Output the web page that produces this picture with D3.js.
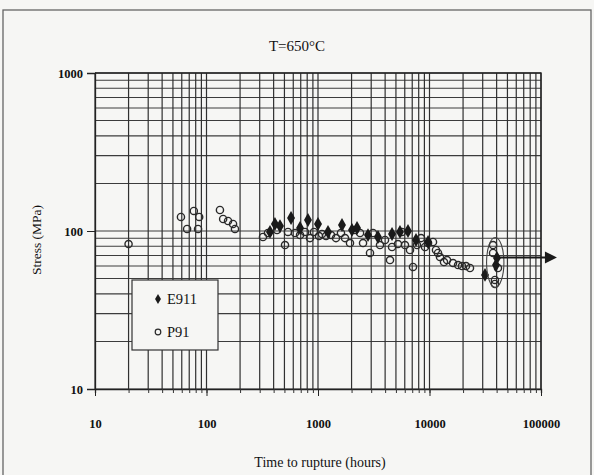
<!DOCTYPE html>
<html><head><meta charset="utf-8">
<script src="https://cdn.jsdelivr.net/npm/d3@7"></script>
<style>
html,body{margin:0;padding:0;background:#f6f6f4;}
svg{display:block;}
</style></head>
<body>
<svg id="c" width="594" height="475"></svg>
<script>
// ---- data ----
const title = "T=650°C";
const xLabel = "Time to rupture (hours)";
const yLabel = "Stress (MPa)";
const timeTicks = [10, 100, 1000, 10000, 100000];
const stressTicks = [10, 100, 1000];
const seriesNames = ["E911", "P91"];

// E911 (filled diamonds): time (h), stress (MPa)
const e911Time = [371, 411, 456, 573, 690, 813, 1000, 1230, 1641, 2018, 2239, 2808, 3451, 4613, 5435, 6413, 7566, 9705, 31470, 39450, 40270];
const e911Stress = [98.6, 110.7, 107.5, 120.9, 104.5, 117.4, 110.7, 98.6, 109.1, 101.5, 104.5, 94.3, 91.6, 95.7, 98.6, 100, 87.7, 85.2, 52.7, 60.9, 67.5];

// P91 (open circles): time (h), stress (MPa)
const p91Time = [20, 59, 67, 77, 84, 86, 132, 141, 156, 173, 180,
  321, 356, 429, 506, 538, 622, 690, 764, 847, 920, 1021, 1086, 1180, 1309, 1450, 1607, 1746, 1936,
  2148, 2383, 2535, 2927, 3113, 3597, 3990, 4424, 4613, 5215, 5665, 6028, 6684, 7111, 7726, 8398,
  9120, 9705, 10750, 11430, 11920, 12420, 13490, 14360, 16250, 18030, 19560, 21250, 23070,
  37150, 37150, 38650, 38650, 41120];
const p91Stress = [82.7, 122.7, 103, 133.9, 103, 122.7, 135.8, 119.1, 115.7, 110.7, 103,
  91.6, 97.1, 101.5, 81.5, 98.6, 97.1, 94.3, 98.6, 90.2, 98.6, 92.9, 95.7, 92.9, 94.3, 90.2, 97.1, 90.2, 83.9,
  101.5, 97.1, 83.9, 72.6, 97.1, 81.5, 87.7, 65.5, 79.2, 82.7, 98.6, 81.5, 75.8, 59.2, 81.5, 90.2,
  79.2, 83.9, 85.2, 75.8, 72.6, 68.5, 63.6, 65.5, 62.7, 60.9, 60, 60, 58.3,
  72.6, 81.5, 49, 46.2, 58.3];

// annotation: circled long-term points and arrow
const ellipseTime = [32500, 46500];
const ellipseStress = [44, 91];
const arrowTime = [40000, 139000];
const arrowStress = 68;

// ---- drawing ----
const FONT = "Liberation Serif, Times New Roman, serif";
const svg = d3.select("#c");
const x = d3.scaleLog().domain([10, 100000]).range([95, 541]);
const y = d3.scaleLog().domain([10, 1000]).range([389, 73]);

// scanned page frame
svg.append("rect").attr("x", 3).attr("y", 10).attr("width", 588).attr("height", 470)
  .attr("fill", "none").attr("stroke", "#666").attr("stroke-width", 1.3);

function minors(lo, hi) {
  const out = [];
  for (let d = lo; d < hi; d *= 10) for (let k = 1; k <= 9; k++) out.push(d * k);
  out.push(hi);
  return out;
}
const gx = minors(10, 100000);
const gy = minors(10, 1000);

const grid = svg.append("g");
grid.selectAll("line.h").data(gy).join("line")
  .attr("x1", x(10)).attr("x2", x(100000))
  .attr("y1", d => y(d)).attr("y2", d => y(d))
  .attr("stroke", "#3c3c3c").attr("stroke-width", 1.1);
grid.selectAll("line.v").data(gx).join("line")
  .attr("y1", y(10)).attr("y2", y(1000))
  .attr("x1", d => x(d)).attr("x2", d => x(d))
  .attr("stroke", "#303030").attr("stroke-width", 1.2);

// minor ticks on x axis
svg.append("g").attr("transform", `translate(0,${y(10)})`)
  .call(d3.axisBottom(x).tickValues(gx).tickSize(4).tickFormat(""))
  .call(g => g.select(".domain").attr("stroke", "#222").attr("stroke-width", 1.3))
  .call(g => g.selectAll(".tick line").attr("stroke", "#333"));

// major x axis
svg.append("g").attr("transform", `translate(0,${y(10)})`)
  .call(d3.axisBottom(x).tickValues(timeTicks).tickSize(7).tickPadding(23).tickFormat(d3.format("d")))
  .call(g => g.select(".domain").remove())
  .call(g => g.selectAll(".tick line").attr("stroke", "#222"))
  .call(g => g.selectAll(".tick text").attr("font-size", 12.5).attr("font-weight", "bold")
      .attr("font-family", FONT).attr("fill", "#111"));

// y axis
svg.append("g").attr("transform", `translate(${x(10)},0)`)
  .call(d3.axisLeft(y).tickValues(stressTicks).tickSize(8).tickPadding(4).tickFormat(d3.format("d")))
  .call(g => g.select(".domain").attr("stroke", "#222").attr("stroke-width", 1.3))
  .call(g => g.selectAll(".tick line").attr("stroke", "#222"))
  .call(g => g.selectAll(".tick text").attr("font-size", 12.5).attr("font-weight", "bold")
      .attr("font-family", FONT).attr("fill", "#111"));

// plot frame (top and right)
svg.append("path")
  .attr("d", `M${x(10)},${y(1000)}H${x(100000)}V${y(10)}`)
  .attr("fill", "none").attr("stroke", "#222").attr("stroke-width", 1.3);

// data
const p91 = p91Time.map((t, i) => [t, p91Stress[i]]);
const e911 = e911Time.map((t, i) => [t, e911Stress[i]]);

svg.append("g").selectAll("circle").data(p91).join("circle")
  .attr("cx", d => x(d[0])).attr("cy", d => y(d[1])).attr("r", 3.6)
  .attr("fill", "none").attr("stroke", "#2a2a2a").attr("stroke-width", 1.4);

const diamond = d3.symbol().type(d3.symbolDiamond).size(55);
svg.append("g").selectAll("path").data(e911).join("path")
  .attr("transform", d => `translate(${x(d[0])},${y(d[1])})`)
  .attr("d", diamond).attr("fill", "#1a1a1a");

// annotation
const ex0 = x(ellipseTime[0]), ex1 = x(ellipseTime[1]);
const ey0 = y(ellipseStress[1]), ey1 = y(ellipseStress[0]);
svg.append("ellipse")
  .attr("cx", (ex0 + ex1) / 2).attr("cy", (ey0 + ey1) / 2)
  .attr("rx", (ex1 - ex0) / 2).attr("ry", (ey1 - ey0) / 2)
  .attr("fill", "none").attr("stroke", "#444").attr("stroke-width", 1.1);
const ay = y(arrowStress), ax0 = x(arrowTime[0]), ax1 = x(arrowTime[1]);
svg.append("line").attr("x1", ax0).attr("x2", ax1 - 8).attr("y1", ay).attr("y2", ay)
  .attr("stroke", "#1a1a1a").attr("stroke-width", 2);
svg.append("path")
  .attr("d", `M${ax1},${ay}L${ax1 - 12},${ay - 6}L${ax1 - 12},${ay + 6}Z`)
  .attr("fill", "#1a1a1a");

// legend
const lg = svg.append("g").attr("transform", "translate(132,280)");
lg.append("rect").attr("width", 86).attr("height", 70)
  .attr("fill", "#f6f6f4").attr("stroke", "#333").attr("stroke-width", 1.2);
lg.append("path").attr("transform", "translate(26,19)")
  .attr("d", d3.symbol().type(d3.symbolDiamond).size(30)).attr("fill", "#1a1a1a");
lg.append("circle").attr("cx", 26).attr("cy", 52).attr("r", 2.8)
  .attr("fill", "none").attr("stroke", "#2a2a2a").attr("stroke-width", 1.2);
lg.selectAll("text").data(seriesNames).join("text")
  .attr("x", 35).attr("y", (d, i) => 24 + i * 33)
  .attr("font-family", FONT).attr("fill", "#111")
  .attr("font-size", 14.5).text(d => d);

// titles
svg.append("text").attr("x", 297).attr("y", 51).attr("text-anchor", "middle")
  .attr("font-family", FONT).attr("fill", "#111")
  .attr("font-size", 15).text(title);
svg.append("text").attr("x", 320).attr("y", 467).attr("text-anchor", "middle")
  .attr("font-family", FONT).attr("fill", "#111")
  .attr("font-size", 14).text(xLabel);
svg.append("text").attr("transform", "translate(41,240) rotate(-90)").attr("text-anchor", "middle")
  .attr("font-family", FONT).attr("fill", "#111")
  .attr("font-size", 13.5).text(yLabel);
</script>
</body></html>
